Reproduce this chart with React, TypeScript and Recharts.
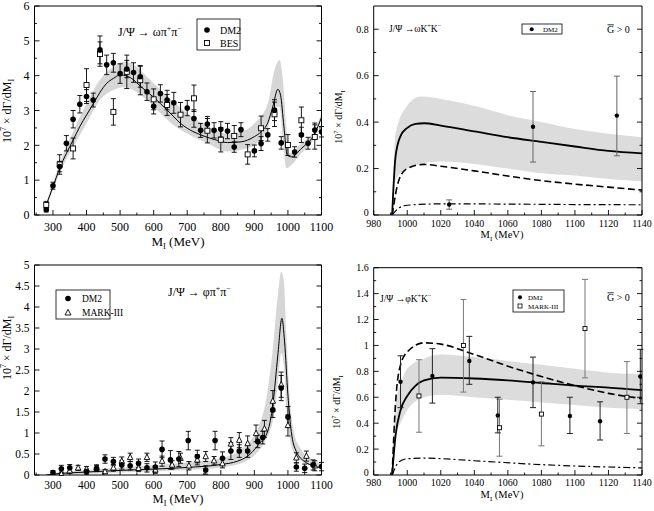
import type { ReactNode } from 'react'
import { Area, ComposedChart, ErrorBar, Line, Scatter, XAxis, YAxis } from 'recharts'

const FONT = '"Liberation Serif", "Times New Roman", serif'

// ---------- panel 1: J/psi -> omega pi+ pi- ----------
const p1XMajor = [300, 400, 500, 600, 700, 800, 900, 1000, 1100]
const p1XMinor = [250, 350, 450, 550, 650, 750, 850, 950, 1050]
const p1YMajor = [0, 1, 2, 3, 4, 5, 6]
const p1YMinor = [0.5, 1.5, 2.5, 3.5, 4.5, 5.5]

const p1Dm2 = [
  { x: 280, y: 0.15, e: 0.06 }, { x: 300, y: 0.84, e: 0.1 }, { x: 320, y: 1.39, e: 0.15 },
  { x: 340, y: 2.06, e: 0.22 }, { x: 360, y: 2.75, e: 0.25 }, { x: 380, y: 3.18, e: 0.25 },
  { x: 400, y: 3.4, e: 0.2 }, { x: 420, y: 3.3, e: 0.2 }, { x: 440, y: 4.74, e: 0.4 },
  { x: 460, y: 4.31, e: 0.28 }, { x: 480, y: 4.37, e: 0.27 }, { x: 500, y: 4.06, e: 0.28 },
  { x: 520, y: 4.19, e: 0.25 }, { x: 540, y: 4.09, e: 0.28 }, { x: 560, y: 3.97, e: 0.3 },
  { x: 580, y: 3.54, e: 0.25 }, { x: 600, y: 3.12, e: 0.22 }, { x: 620, y: 3.49, e: 0.25 },
  { x: 640, y: 3.3, e: 0.28 }, { x: 660, y: 3.22, e: 0.3 }, { x: 700, y: 3.07, e: 0.22 },
  { x: 720, y: 2.77, e: 0.25 }, { x: 740, y: 2.43, e: 0.2 }, { x: 760, y: 2.61, e: 0.22 },
  { x: 780, y: 2.43, e: 0.22 }, { x: 800, y: 2.46, e: 0.22 }, { x: 820, y: 2.41, e: 0.22 },
  { x: 840, y: 1.95, e: 0.15 }, { x: 860, y: 2.45, e: 0.2 }, { x: 900, y: 1.84, e: 0.17 },
  { x: 920, y: 2.05, e: 0.2 }, { x: 940, y: 2.3, e: 0.18 }, { x: 960, y: 3.01, e: 0.3 },
  { x: 980, y: 2.07, e: 0.18 }, { x: 1020, y: 1.81, e: 0.15 }, { x: 1040, y: 2.3, e: 0.22 },
  { x: 1060, y: 2.06, e: 0.17 }, { x: 1080, y: 2.44, e: 0.2 }, { x: 1100, y: 2.39, e: 0.15 },
]

const p1Bes = [
  { x: 280, y: 0.29, e: 0.1 }, { x: 320, y: 1.45, e: 0.28 }, { x: 360, y: 1.91, e: 0.3 },
  { x: 400, y: 3.73, e: 0.47 }, { x: 440, y: 4.62, e: 0.35 }, { x: 480, y: 2.96, e: 0.38 },
  { x: 520, y: 4.11, e: 0.48 }, { x: 560, y: 3.87, e: 0.42 }, { x: 600, y: 3.32, e: 0.3 },
  { x: 640, y: 3.16, e: 0.3 }, { x: 680, y: 2.88, e: 0.35 }, { x: 720, y: 3.35, e: 0.38 },
  { x: 760, y: 2.42, e: 0.35 }, { x: 800, y: 2.16, e: 0.35 }, { x: 840, y: 2.27, e: 0.3 },
  { x: 880, y: 1.74, e: 0.28 }, { x: 920, y: 2.49, e: 0.35 }, { x: 960, y: 2.89, e: 0.35 },
  { x: 1000, y: 2.01, e: 0.3 }, { x: 1040, y: 2.72, e: 0.38 }, { x: 1080, y: 2.24, e: 0.35 },
]

const p1Curve = [
  { x: 280, y: 0.29 }, { x: 300, y: 0.81 }, { x: 320, y: 1.34 }, { x: 340, y: 1.77 },
  { x: 360, y: 2.15 }, { x: 380, y: 2.54 }, { x: 400, y: 2.87 }, { x: 420, y: 3.19 },
  { x: 440, y: 3.52 }, { x: 460, y: 3.78 }, { x: 480, y: 3.92 }, { x: 500, y: 4.02 },
  { x: 520, y: 3.99 }, { x: 540, y: 3.88 }, { x: 560, y: 3.7 }, { x: 580, y: 3.54 },
  { x: 600, y: 3.38 }, { x: 620, y: 3.2 }, { x: 640, y: 3.01 }, { x: 660, y: 2.82 },
  { x: 680, y: 2.63 }, { x: 700, y: 2.49 }, { x: 740, y: 2.3 }, { x: 780, y: 2.17 },
  { x: 820, y: 2.08 }, { x: 860, y: 2.1 }, { x: 900, y: 2.25 }, { x: 920, y: 2.39 },
  { x: 940, y: 2.65 }, { x: 955, y: 3.11 }, { x: 970, y: 3.61 }, { x: 978, y: 3.44 },
  { x: 988, y: 2.54 }, { x: 998, y: 1.72 }, { x: 1010, y: 1.67 }, { x: 1040, y: 1.91 },
  { x: 1080, y: 2.34 }, { x: 1100, y: 2.8 },
]

const p1Band = [
  { x: 280, range: [0.19, 0.33] }, { x: 320, range: [1.2, 1.48] }, { x: 360, range: [1.96, 2.39] },
  { x: 400, range: [2.63, 3.2] }, { x: 440, range: [3.3, 3.88] }, { x: 480, range: [3.59, 4.26] },
  { x: 510, range: [3.67, 4.4] }, { x: 540, range: [3.59, 4.31] }, { x: 580, range: [3.3, 3.97] },
  { x: 620, range: [2.92, 3.59] }, { x: 660, range: [2.58, 3.25] }, { x: 700, range: [2.34, 2.92] },
  { x: 760, range: [2.06, 2.55] }, { x: 820, range: [1.82, 2.34] }, { x: 860, range: [1.87, 2.39] },
  { x: 900, range: [2.01, 2.63] }, { x: 940, range: [2.49, 3.2] }, { x: 960, range: [3.11, 4.16] },
  { x: 975, range: [3.11, 4.45] }, { x: 985, range: [2.15, 3.88] }, { x: 995, range: [1.34, 2.54] },
  { x: 1005, range: [1.39, 1.77] }, { x: 1040, range: [1.77, 2.06] }, { x: 1080, range: [2.25, 2.44] },
  { x: 1100, range: [2.75, 2.92] },
]

// ---------- panel 2: J/psi -> omega K+ K- ----------
const p2XMajor = [980, 1000, 1020, 1040, 1060, 1080, 1100, 1120, 1140]
const p2XMinor = [990, 1010, 1030, 1050, 1070, 1090, 1110, 1130]
const p2YMajor = [0, 0.2, 0.4, 0.6, 0.8]
const p2YMinor = [0.1, 0.3, 0.5, 0.7]

const p2Dm2 = [
  { x: 1025, y: 0.045, lo: 0.025, hi: 0.065 },
  { x: 1075, y: 0.38, lo: 0.228, hi: 0.532 },
  { x: 1125, y: 0.428, lo: 0.255, hi: 0.598 },
]

const p2Solid = [
  { x: 991, y: 0 }, { x: 993, y: 0.25 }, { x: 996, y: 0.34 }, { x: 1000, y: 0.375 },
  { x: 1005, y: 0.392 }, { x: 1010, y: 0.395 }, { x: 1020, y: 0.385 }, { x: 1040, y: 0.36 },
  { x: 1060, y: 0.335 }, { x: 1080, y: 0.315 }, { x: 1100, y: 0.295 }, { x: 1120, y: 0.276 },
  { x: 1140, y: 0.265 },
]
const p2Dashed = [
  { x: 991, y: 0 }, { x: 995, y: 0.15 }, { x: 1000, y: 0.2 }, { x: 1010, y: 0.218 },
  { x: 1020, y: 0.21 }, { x: 1040, y: 0.19 }, { x: 1060, y: 0.168 }, { x: 1080, y: 0.148 },
  { x: 1100, y: 0.133 }, { x: 1120, y: 0.12 }, { x: 1140, y: 0.107 },
]
const p2DashDot = [
  { x: 991, y: 0 }, { x: 995, y: 0.03 }, { x: 1000, y: 0.042 }, { x: 1020, y: 0.048 },
  { x: 1060, y: 0.047 }, { x: 1100, y: 0.045 }, { x: 1140, y: 0.044 },
]
const p2Band = [
  { x: 991, range: [0, 0] }, { x: 993, range: [0.15, 0.35] }, { x: 1000, range: [0.2, 0.47] },
  { x: 1008, range: [0.22, 0.51] }, { x: 1020, range: [0.23, 0.5] }, { x: 1040, range: [0.22, 0.47] },
  { x: 1060, range: [0.2, 0.43] }, { x: 1080, range: [0.18, 0.4] }, { x: 1100, range: [0.17, 0.37] },
  { x: 1120, range: [0.155, 0.35] }, { x: 1140, range: [0.145, 0.335] },
]

// ---------- panel 3: J/psi -> phi pi+ pi- ----------
const p3YMajor = [0, 0.5, 1, 1.5, 2, 2.5, 3, 3.5, 4, 4.5, 5]

const p3Dm2 = [
  { x: 300, y: 0.06, e: 0.04 }, { x: 325, y: 0.15, e: 0.08 }, { x: 350, y: 0.17, e: 0.08 },
  { x: 400, y: 0.08, e: 0.06 }, { x: 430, y: 0.16, e: 0.08 }, { x: 455, y: 0.38, e: 0.1 },
  { x: 480, y: 0.32, e: 0.1 }, { x: 505, y: 0.24, e: 0.1 }, { x: 530, y: 0.22, e: 0.1 },
  { x: 555, y: 0.28, e: 0.1 }, { x: 580, y: 0.17, e: 0.1 }, { x: 605, y: 0.19, e: 0.12 },
  { x: 625, y: 0.61, e: 0.2 }, { x: 650, y: 0.36, e: 0.22 }, { x: 675, y: 0.38, e: 0.18 },
  { x: 703, y: 0.82, e: 0.22 }, { x: 730, y: 0.44, e: 0.15 }, { x: 755, y: 0.12, e: 0.1 },
  { x: 783, y: 0.82, e: 0.22 }, { x: 805, y: 0.4, e: 0.15 }, { x: 830, y: 0.57, e: 0.2 },
  { x: 855, y: 0.57, e: 0.15 }, { x: 880, y: 0.57, e: 0.15 }, { x: 910, y: 0.8, e: 0.15 },
  { x: 925, y: 0.89, e: 0.15 }, { x: 955, y: 1.55, e: 0.18 }, { x: 980, y: 2.07, e: 0.3 },
  { x: 1000, y: 1.38, e: 0.25 }, { x: 1025, y: 0.19, e: 0.1 }, { x: 1050, y: 0.16, e: 0.1 },
  { x: 1075, y: 0.24, e: 0.12 }, { x: 1100, y: 0.2, e: 0.1 },
]

const p3Mark = [
  { x: 325, y: 0.02, e: 0.03 }, { x: 350, y: 0.1, e: 0.06 }, { x: 375, y: 0.17, e: 0.06 },
  { x: 400, y: 0.14, e: 0.06 }, { x: 430, y: 0.17, e: 0.06 }, { x: 455, y: 0.08, e: 0.05 },
  { x: 480, y: 0.17, e: 0.08 }, { x: 505, y: 0.33, e: 0.1 }, { x: 530, y: 0.42, e: 0.1 },
  { x: 555, y: 0.16, e: 0.08 }, { x: 580, y: 0.42, e: 0.1 }, { x: 605, y: 0.12, e: 0.08 },
  { x: 625, y: 0.33, e: 0.12 }, { x: 655, y: 0.24, e: 0.1 }, { x: 680, y: 0.4, e: 0.12 },
  { x: 705, y: 0.22, e: 0.1 }, { x: 730, y: 0.36, e: 0.12 }, { x: 755, y: 0.44, e: 0.12 },
  { x: 780, y: 0.34, e: 0.1 }, { x: 805, y: 0.27, e: 0.1 }, { x: 830, y: 0.74, e: 0.15 },
  { x: 855, y: 0.83, e: 0.18 }, { x: 880, y: 0.75, e: 0.18 }, { x: 905, y: 0.99, e: 0.2 },
  { x: 930, y: 1.1, e: 0.2 }, { x: 955, y: 1.76, e: 0.25 }, { x: 980, y: 2.15, e: 0.3 },
  { x: 1000, y: 1.18, e: 0.25 }, { x: 1025, y: 0.41, e: 0.12 }, { x: 1055, y: 0.45, e: 0.12 },
  { x: 1080, y: 0.22, e: 0.12 },
]

const p3Curve = [
  { x: 280, y: 0.0 }, { x: 300, y: 0.02 }, { x: 400, y: 0.07 }, { x: 500, y: 0.11 },
  { x: 600, y: 0.14 }, { x: 700, y: 0.18 }, { x: 800, y: 0.25 }, { x: 850, y: 0.33 },
  { x: 880, y: 0.45 }, { x: 910, y: 0.7 }, { x: 940, y: 1.05 }, { x: 955, y: 1.67 },
  { x: 970, y: 2.86 }, { x: 982, y: 3.73 }, { x: 990, y: 3.17 }, { x: 1000, y: 1.9 },
  { x: 1010, y: 1.03 }, { x: 1025, y: 0.56 }, { x: 1050, y: 0.32 }, { x: 1075, y: 0.22 },
  { x: 1100, y: 0.17 },
]

const p3Band = [
  { x: 300, range: [0, 0.05] }, { x: 400, range: [0.03, 0.12] }, { x: 500, range: [0.06, 0.18] },
  { x: 600, range: [0.09, 0.23] }, { x: 700, range: [0.12, 0.3] }, { x: 800, range: [0.18, 0.4] },
  { x: 850, range: [0.25, 0.55] }, { x: 880, range: [0.35, 0.75] }, { x: 910, range: [0.55, 1.1] },
  { x: 935, range: [0.85, 1.8] }, { x: 955, range: [1.3, 3.0] }, { x: 970, range: [2.2, 4.3] },
  { x: 980, range: [2.9, 4.84] }, { x: 988, range: [2.6, 4.6] }, { x: 995, range: [1.6, 3.4] },
  { x: 1005, range: [0.9, 1.9] }, { x: 1020, range: [0.5, 0.95] }, { x: 1040, range: [0.33, 0.6] },
  { x: 1070, range: [0.22, 0.38] }, { x: 1100, range: [0.16, 0.28] },
]

// ---------- panel 4: J/psi -> phi K+ K- ----------
const p4YMajor = [0, 0.2, 0.4, 0.6, 0.8, 1, 1.2, 1.4, 1.6]
const p4YMinor = [0.1, 0.3, 0.5, 0.7, 0.9, 1.1, 1.3, 1.5]

const p4Dm2 = [
  { x: 996, y: 0.72, lo: 0.52, hi: 0.92 }, { x: 1015, y: 0.765, lo: 0.555, hi: 0.975 },
  { x: 1037, y: 0.88, lo: 0.7, hi: 1.07 }, { x: 1054, y: 0.46, lo: 0.325, hi: 0.6 },
  { x: 1075, y: 0.715, lo: 0.52, hi: 0.91 }, { x: 1097, y: 0.455, lo: 0.32, hi: 0.6 },
  { x: 1115, y: 0.415, lo: 0.27, hi: 0.565 }, { x: 1139, y: 0.76, lo: 0.55, hi: 0.97 },
]
const p4Mark = [
  { x: 1007, y: 0.61, lo: 0.33, hi: 0.89 }, { x: 1033.5, y: 1.0, lo: 0.64, hi: 1.355 },
  { x: 1055, y: 0.365, lo: 0.145, hi: 0.585 }, { x: 1080, y: 0.47, lo: 0.225, hi: 0.72 },
  { x: 1106, y: 1.13, lo: 0.75, hi: 1.51 }, { x: 1131, y: 0.6, lo: 0.32, hi: 0.875 },
]

const p4Solid = [
  { x: 991, y: 0 }, { x: 993, y: 0.3 }, { x: 996, y: 0.5 }, { x: 1000, y: 0.61 },
  { x: 1005, y: 0.69 }, { x: 1010, y: 0.73 }, { x: 1020, y: 0.752 }, { x: 1040, y: 0.745 },
  { x: 1060, y: 0.73 }, { x: 1080, y: 0.71 }, { x: 1100, y: 0.69 }, { x: 1120, y: 0.675 },
  { x: 1140, y: 0.655 },
]
const p4Dashed = [
  { x: 991, y: 0 }, { x: 993, y: 0.55 }, { x: 996, y: 0.85 }, { x: 1000, y: 0.95 },
  { x: 1010, y: 1.02 }, { x: 1020, y: 1.01 }, { x: 1040, y: 0.93 }, { x: 1060, y: 0.84 },
  { x: 1080, y: 0.76 }, { x: 1100, y: 0.69 }, { x: 1120, y: 0.63 }, { x: 1140, y: 0.59 },
]
const p4DashDot = [
  { x: 991, y: 0 }, { x: 995, y: 0.1 }, { x: 1000, y: 0.125 }, { x: 1010, y: 0.13 },
  { x: 1040, y: 0.11 }, { x: 1080, y: 0.08 }, { x: 1140, y: 0.055 },
]
const p4Band = [
  { x: 991, range: [0, 0] }, { x: 993, range: [0.3, 0.55] }, { x: 996, range: [0.4, 0.7] },
  { x: 1000, range: [0.5, 0.82] }, { x: 1010, range: [0.6, 0.9] }, { x: 1020, range: [0.62, 0.93] },
  { x: 1040, range: [0.6, 0.91] }, { x: 1060, range: [0.58, 0.88] }, { x: 1080, range: [0.56, 0.85] },
  { x: 1100, range: [0.54, 0.82] }, { x: 1120, range: [0.52, 0.79] }, { x: 1140, range: [0.51, 0.78] },
]

// asymmetric bars: convert bounds to [down, up] distances
const asym = (pts: { x: number; y: number; lo: number; hi: number }[]) =>
  pts.map((p) => ({ x: p.x, y: p.y, e: [p.y - p.lo, p.hi - p.y] }))

const fmt = (v: number) => String(+v.toFixed(2))

type Side = 'bottom' | 'top' | 'left' | 'right'

function tickFn(side: Side, majors: number[], font = 12, gap = 0, labels = false, zeroLift = 0) {
  return (props: any) => {
    const { x, y, payload } = props
    const v = Number(payload.value)
    const major = majors.some((m) => Math.abs(m - v) < 1e-6)
    const len = major ? 5 : 2.5
    let ln = [x, y, x, y]
    if (side === 'bottom') ln = [x, y, x, y - len]
    if (side === 'top') ln = [x, y, x, y + len]
    if (side === 'left') ln = [x, y, x + len, y]
    if (side === 'right') ln = [x, y, x - len, y]
    let label: ReactNode = null
    if (labels && major) {
      // the y "0" is nudged up where it would touch the first x label
      const lift = v === 0 ? zeroLift : 0
      label =
        side === 'bottom' ? (
          <text x={x} y={y + gap} textAnchor="middle" fontSize={font} fontFamily={FONT} fill="#000">
            {fmt(v)}
          </text>
        ) : (
          <text x={x - gap} y={y + font * 0.35 - lift} textAnchor="end" fontSize={font} fontFamily={FONT} fill="#000">
            {fmt(v)}
          </text>
        )
    }
    return (
      <g>
        <line x1={ln[0]} y1={ln[1]} x2={ln[2]} y2={ln[3]} stroke="#000" strokeWidth={0.9} />
        {label}
      </g>
    )
  }
}

const dot = (r: number) => (p: any) => <circle cx={p.cx} cy={p.cy} r={r} fill="#000" />
const square = (s: number) => (p: any) => (
  <rect x={p.cx - s / 2} y={p.cy - s / 2} width={s} height={s} fill="#fff" stroke="#000" strokeWidth={0.9} />
)
const triangle = (s: number) => (p: any) => (
  <polygon
    points={`${p.cx},${p.cy - s * 0.6} ${p.cx - s / 2},${p.cy + s * 0.4} ${p.cx + s / 2},${p.cy + s * 0.4}`}
    fill="#fff"
    stroke="#000"
    strokeWidth={0.9}
  />
)

type PanelProps = {
  left: number
  top: number
  width: number
  height: number
  // plot-area edges inside the panel
  plot: { top: number; right: number; bottom: number; left: number }
  xDomain: [number, number]
  xMajor: number[]
  xMinor: number[]
  yDomain: [number, number]
  yMajor: number[]
  yMinor: number[]
  font: number
  xGap: number
  yGap: number
  zeroLift?: number
  overlay: ReactNode
  children: ReactNode
}

function Panel(p: PanelProps) {
  const xTicks = [...p.xMajor, ...p.xMinor]
  const yTicks = [...p.yMajor, ...p.yMinor]
  const axisLine = { stroke: '#000', strokeWidth: 1 }
  // every axis takes 1px of room, so shave it from the margins
  const margin = {
    top: p.plot.top - 1,
    left: p.plot.left - 1,
    right: p.width - p.plot.right - 1,
    bottom: p.height - p.plot.bottom - 1,
  }
  return (
    <div style={{ position: 'absolute', left: p.left, top: p.top, width: p.width, height: p.height }}>
      <ComposedChart width={p.width} height={p.height} margin={margin}>
        <XAxis
          xAxisId={0}
          dataKey="x"
          type="number"
          domain={p.xDomain}
          allowDataOverflow
          ticks={xTicks}
          interval={0}
          height={1}
          tickSize={0}
          tickMargin={0}
          tickLine={false}
          axisLine={axisLine}
          tick={tickFn('bottom', p.xMajor, p.font, p.xGap, true)}
        />
        <XAxis
          xAxisId="top"
          orientation="top"
          type="number"
          domain={p.xDomain}
          allowDataOverflow
          ticks={xTicks}
          interval={0}
          height={1}
          tickSize={0}
          tickMargin={0}
          tickLine={false}
          axisLine={axisLine}
          tick={tickFn('top', p.xMajor)}
        />
        <YAxis
          yAxisId={0}
          type="number"
          domain={p.yDomain}
          allowDataOverflow
          ticks={yTicks}
          interval={0}
          width={1}
          tickSize={0}
          tickMargin={0}
          tickLine={false}
          axisLine={axisLine}
          tick={tickFn('left', p.yMajor, p.font, p.yGap, true, p.zeroLift ?? 0)}
        />
        <YAxis
          yAxisId="right"
          orientation="right"
          type="number"
          domain={p.yDomain}
          allowDataOverflow
          ticks={yTicks}
          interval={0}
          width={1}
          tickSize={0}
          tickMargin={0}
          tickLine={false}
          axisLine={axisLine}
          tick={tickFn('right', p.yMajor)}
        />
        {p.children}
      </ComposedChart>
      <svg
        width={p.width}
        height={p.height}
        style={{ position: 'absolute', left: 0, top: 0, overflow: 'visible', pointerEvents: 'none' }}
      >
        {p.overlay}
      </svg>
    </div>
  )
}

function YTitle({ x, y, size }: { x: number; y: number; size: number }) {
  return (
    <text transform={`translate(${x},${y}) rotate(-90)`} textAnchor="middle" fontSize={size} fontFamily={FONT}>
      10
      <tspan dy={-size * 0.4} fontSize={size * 0.65}>7</tspan>
      <tspan dy={size * 0.4}> × dΓ/dM</tspan>
      <tspan dy={size * 0.25} fontSize={size * 0.65}>I</tspan>
    </text>
  )
}

function XTitle({ x, y, size }: { x: number; y: number; size: number }) {
  return (
    <text x={x} y={y} textAnchor="middle" fontSize={size} fontFamily={FONT}>
      M
      <tspan dy={size * 0.25} fontSize={size * 0.65}>I</tspan>
      <tspan dy={-size * 0.25}> (MeV)</tspan>
    </text>
  )
}

function Reaction({ x, y, size, meson, pair, gap }: { x: number; y: number; size: number; meson: string; pair: string; gap: string }) {
  const s = size * 0.65
  return (
    <text x={x} y={y} fontSize={size} fontFamily={FONT}>
      {`J/Ψ ${gap}${meson}${pair}`}
      <tspan dy={-size * 0.4} fontSize={s}>+</tspan>
      <tspan dy={size * 0.4}>{pair}</tspan>
      <tspan dy={-size * 0.4} fontSize={s}>−</tspan>
    </text>
  )
}

function GBar({ x, y, size }: { x: number; y: number; size: number }) {
  return (
    <g>
      <text x={x} y={y} fontSize={size} fontFamily={FONT}>G &gt; 0</text>
      <line x1={x + 0.5} y1={y - size * 0.82} x2={x + size * 0.68} y2={y - size * 0.82} stroke="#000" strokeWidth={0.8} />
    </g>
  )
}

export default function App() {
  const css = '.recharts-surface{overflow:visible}'
  return (
    <div style={{ position: 'absolute', left: 0, top: 0, width: 654, height: 511, background: '#fff', fontFamily: FONT }}>
      <style>{css}</style>

      {/* top left: omega pi pi */}
      <Panel
        left={0}
        top={0}
        width={327}
        height={255}
        plot={{ top: 6, right: 321.5, bottom: 215, left: 34.5 }}
        xDomain={[245, 1100]}
        xMajor={p1XMajor}
        xMinor={p1XMinor}
        yDomain={[0, 6]}
        yMajor={p1YMajor}
        yMinor={p1YMinor}
        font={12}
        xGap={16}
        yGap={5}
        overlay={
          <>
            <YTitle x={11} y={111} size={12} />
            <XTitle x={178} y={246} size={13} />
            <Reaction x={118} y={36} size={12} meson="ω" pair="π" gap="→ " />
            <rect x={197} y={19} width={43} height={31} fill="#fff" stroke="#000" strokeWidth={0.8} />
            <circle cx={207} cy={30} r={2.8} fill="#000" />
            <text x={220} y={33.5} fontSize={10} fontFamily={FONT}>DM2</text>
            <rect x={204.5} y={40.5} width={5} height={5} fill="#fff" stroke="#000" strokeWidth={0.9} />
            <text x={220} y={46.5} fontSize={10} fontFamily={FONT}>BES</text>
          </>
        }
      >
        <Area data={p1Band} dataKey="range" type="monotone" fill="#d6d6d6" fillOpacity={1} stroke="none" isAnimationActive={false} />
        <Line data={p1Curve} dataKey="y" type="monotone" stroke="#000" strokeWidth={1} dot={false} isAnimationActive={false} />
        <Scatter data={p1Bes} dataKey="y" shape={square(5)} isAnimationActive={false}>
          <ErrorBar dataKey="e" direction="y" width={2.5} stroke="#000" strokeWidth={0.9} />
        </Scatter>
        <Scatter data={p1Dm2} dataKey="y" shape={dot(2.8)} isAnimationActive={false}>
          <ErrorBar dataKey="e" direction="y" width={2.5} stroke="#000" strokeWidth={0.9} />
        </Scatter>
      </Panel>

      {/* top right: omega K K */}
      <Panel
        left={327}
        top={0}
        width={327}
        height={255}
        plot={{ top: 6, right: 315, bottom: 215, left: 46.7 }}
        xDomain={[980, 1140]}
        xMajor={p2XMajor}
        xMinor={p2XMinor}
        yDomain={[0, 0.9]}
        yMajor={p2YMajor}
        yMinor={p2YMinor}
        font={10}
        xGap={11.5}
        yGap={5}
        zeroLift={3}
        overlay={
          <>
            <YTitle x={15} y={117} size={10} />
            <XTitle x={175} y={238} size={10.5} />
            <Reaction x={62} y={32} size={9.5} meson="ω" pair="K" gap="→" />
            <rect x={195} y={24} width={40} height={10} fill="#fff" stroke="#000" strokeWidth={0.8} />
            <circle cx={204.7} cy={29.3} r={2} fill="#000" />
            <text x={216} y={31.8} fontSize={7} fontFamily={FONT}>DM2</text>
            <GBar x={280} y={33} size={10} />
          </>
        }
      >
        <Area data={p2Band} dataKey="range" type="monotone" fill="#dcdcdc" fillOpacity={1} stroke="none" isAnimationActive={false} />
        <Line data={p2Solid} dataKey="y" type="monotone" stroke="#000" strokeWidth={1.8} dot={false} isAnimationActive={false} />
        <Line data={p2Dashed} dataKey="y" type="monotone" stroke="#000" strokeWidth={1.6} strokeDasharray="7 3.5" dot={false} isAnimationActive={false} />
        <Line data={p2DashDot} dataKey="y" type="monotone" stroke="#000" strokeWidth={1.2} strokeDasharray="7 3 2 3" dot={false} isAnimationActive={false} />
        <Scatter data={asym(p2Dm2)} dataKey="y" shape={dot(2.2)} isAnimationActive={false}>
          <ErrorBar dataKey="e" direction="y" width={3} stroke="#666" strokeWidth={1} />
        </Scatter>
      </Panel>

      {/* bottom left: phi pi pi */}
      <Panel
        left={0}
        top={255}
        width={327}
        height={256}
        plot={{ top: 10, right: 321.5, bottom: 220, left: 34.5 }}
        xDomain={[245, 1100]}
        xMajor={p1XMajor}
        xMinor={p1XMinor}
        yDomain={[0, 5]}
        yMajor={p3YMajor}
        yMinor={[]}
        font={11.5}
        xGap={14}
        yGap={5}
        overlay={
          <>
            <YTitle x={11} y={93} size={12} />
            <XTitle x={178} y={248} size={12.5} />
            <Reaction x={168} y={41} size={12} meson="φ" pair="π" gap="→ " />
            <rect x={56} y={35} width={54} height={29} fill="#fff" stroke="#000" strokeWidth={0.8} />
            <circle cx={68} cy={43.5} r={2.8} fill="#000" />
            <text x={82} y={47} fontSize={9.5} fontFamily={FONT}>DM2</text>
            <polygon points="68,54.3 65,60 71,60" fill="#fff" stroke="#000" strokeWidth={0.9} />
            <text x={82} y={61} fontSize={9.5} fontFamily={FONT}>MARK-III</text>
          </>
        }
      >
        <Area data={p3Band} dataKey="range" type="monotone" fill="#d6d6d6" fillOpacity={1} stroke="none" isAnimationActive={false} />
        <Line data={p3Curve} dataKey="y" type="monotone" stroke="#000" strokeWidth={1} dot={false} isAnimationActive={false} />
        <Scatter data={p3Mark} dataKey="y" shape={triangle(5.5)} isAnimationActive={false}>
          <ErrorBar dataKey="e" direction="y" width={2.5} stroke="#000" strokeWidth={0.9} />
        </Scatter>
        <Scatter data={p3Dm2} dataKey="y" shape={dot(2.8)} isAnimationActive={false}>
          <ErrorBar dataKey="e" direction="y" width={2.5} stroke="#000" strokeWidth={0.9} />
        </Scatter>
      </Panel>

      {/* bottom right: phi K K */}
      <Panel
        left={327}
        top={255}
        width={327}
        height={256}
        plot={{ top: 12.7, right: 315, bottom: 220, left: 46.7 }}
        xDomain={[980, 1140]}
        xMajor={p2XMajor}
        xMinor={p2XMinor}
        yDomain={[0, 1.6]}
        yMajor={p4YMajor}
        yMinor={p4YMinor}
        font={10}
        xGap={11}
        yGap={5}
        zeroLift={3}
        overlay={
          <>
            <YTitle x={13} y={147} size={10} />
            <XTitle x={175} y={243} size={10.5} />
            <Reaction x={53} y={47} size={9.5} meson="φ" pair="K" gap="→" />
            <rect x={186} y={35} width={51} height={22} fill="#fff" stroke="#000" strokeWidth={0.8} />
            <circle cx={193} cy={42.3} r={2} fill="#000" />
            <text x={201} y={44.8} fontSize={7} fontFamily={FONT}>DM2</text>
            <rect x={191} y={49} width={4} height={4} fill="#fff" stroke="#000" strokeWidth={0.8} />
            <text x={201} y={53.5} fontSize={7} fontFamily={FONT}>MARK-III</text>
            <GBar x={280} y={46} size={10} />
          </>
        }
      >
        <Area data={p4Band} dataKey="range" type="monotone" fill="#dcdcdc" fillOpacity={1} stroke="none" isAnimationActive={false} />
        <Line data={p4Solid} dataKey="y" type="monotone" stroke="#000" strokeWidth={1.8} dot={false} isAnimationActive={false} />
        <Line data={p4Dashed} dataKey="y" type="monotone" stroke="#000" strokeWidth={1.6} strokeDasharray="7 3.5" dot={false} isAnimationActive={false} />
        <Line data={p4DashDot} dataKey="y" type="monotone" stroke="#000" strokeWidth={1.2} strokeDasharray="7 3 2 3" dot={false} isAnimationActive={false} />
        <Scatter data={asym(p4Mark)} dataKey="y" shape={square(4)} isAnimationActive={false}>
          <ErrorBar dataKey="e" direction="y" width={3} stroke="#777" strokeWidth={1} />
        </Scatter>
        <Scatter data={asym(p4Dm2)} dataKey="y" shape={dot(2.2)} isAnimationActive={false}>
          <ErrorBar dataKey="e" direction="y" width={3} stroke="#222" strokeWidth={1} />
        </Scatter>
      </Panel>
    </div>
  )
}
